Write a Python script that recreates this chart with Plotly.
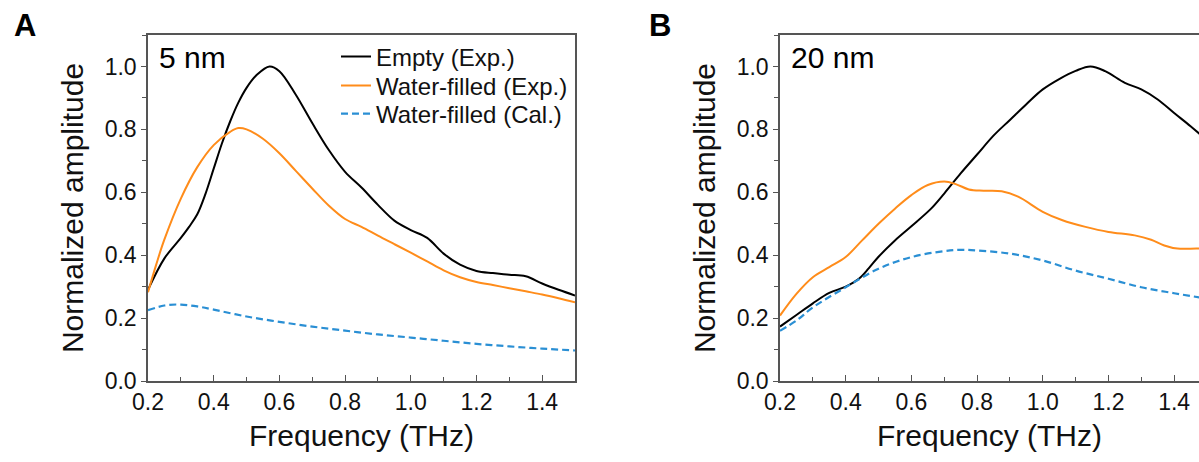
import plotly.graph_objects as go

# ---- Panel A: 5 nm channel ----
a_empty_f = [0.2, 0.25, 0.3, 0.325, 0.35, 0.375, 0.4, 0.425, 0.45, 0.475, 0.5, 0.53, 0.57, 0.6, 0.65, 0.7,
             0.75, 0.8, 0.85, 0.9, 0.95, 1.0, 1.05, 1.1, 1.15, 1.2, 1.25, 1.3, 1.35, 1.4, 1.45, 1.5]
a_empty_v = [0.29, 0.39, 0.455, 0.49, 0.53, 0.595, 0.675, 0.755, 0.825, 0.885, 0.932, 0.972, 1.0, 0.985, 0.91, 0.82,
             0.735, 0.665, 0.615, 0.56, 0.51, 0.48, 0.455, 0.405, 0.37, 0.35, 0.343, 0.338, 0.333, 0.31, 0.29, 0.272]

a_water_f = [0.2, 0.225, 0.25, 0.3, 0.35, 0.4, 0.45, 0.475, 0.5, 0.55, 0.6, 0.65, 0.7, 0.75, 0.8,
             0.85, 0.9, 0.95, 1.0, 1.05, 1.1, 1.15, 1.2, 1.25, 1.3, 1.35, 1.4, 1.45, 1.5]
a_water_v = [0.282, 0.37, 0.45, 0.58, 0.68, 0.75, 0.792, 0.804, 0.80, 0.77, 0.724, 0.668, 0.612, 0.558, 0.515,
             0.49, 0.462, 0.435, 0.408, 0.38, 0.352, 0.33, 0.315, 0.305, 0.295, 0.285, 0.275, 0.263, 0.25]

a_calc_f = [0.2, 0.25, 0.3, 0.35, 0.4, 0.5, 0.6, 0.7, 0.8, 0.9, 1.0, 1.1, 1.2, 1.3, 1.4, 1.5]
a_calc_v = [0.225, 0.24, 0.243, 0.237, 0.227, 0.205, 0.188, 0.173, 0.16, 0.148, 0.138, 0.128, 0.118, 0.11, 0.103, 0.097]

# ---- Panel B: 20 nm channel ----
b_empty_f = [0.2, 0.25, 0.3, 0.35, 0.4, 0.44, 0.47, 0.5, 0.55, 0.6, 0.66, 0.7, 0.75, 0.8, 0.85, 0.9, 0.95,
             1.0, 1.05, 1.1, 1.145, 1.19, 1.25, 1.3, 1.35, 1.4, 1.45, 1.5]
b_empty_v = [0.173, 0.21, 0.247, 0.28, 0.30, 0.325, 0.358, 0.395, 0.447, 0.492, 0.548, 0.596, 0.66, 0.72, 0.78, 0.83, 0.88,
             0.927, 0.96, 0.986, 1.0, 0.985, 0.948, 0.927, 0.895, 0.852, 0.81, 0.765]

b_water_f = [0.2, 0.25, 0.3, 0.35, 0.4, 0.45, 0.5, 0.55, 0.6, 0.65, 0.7, 0.735, 0.775, 0.82, 0.875, 0.925,
             1.0, 1.06, 1.13, 1.2, 1.28, 1.33, 1.37, 1.41, 1.47, 1.5]
b_water_v = [0.208, 0.277, 0.33, 0.362, 0.394, 0.447, 0.50, 0.548, 0.591, 0.623, 0.634, 0.626, 0.609, 0.605, 0.603, 0.586,
             0.538, 0.511, 0.49, 0.474, 0.463, 0.449, 0.431, 0.421, 0.421, 0.42]

b_calc_f = [0.2, 0.25, 0.3, 0.4, 0.5, 0.6, 0.7, 0.75, 0.8, 0.9, 1.0, 1.1, 1.2, 1.3, 1.4, 1.5]
b_calc_v = [0.16, 0.192, 0.234, 0.298, 0.357, 0.394, 0.413, 0.417, 0.415, 0.405, 0.383, 0.351, 0.325, 0.298, 0.279, 0.262]

series_names = ["Empty (Exp.)", "Water-filled (Exp.)", "Water-filled (Cal.)"]
panel_labels = ["A", "B"]
panel_titles = ["5 nm", "20 nm"]

BLACK = "#000000"
ORANGE = "#ff8c1a"
BLUE = "#2a8fd4"
AXIS = "#555555"
TEXT = "#111111"
FONT = "Arial, Liberation Sans, sans-serif"

W, H = 1199, 462

fig = go.Figure()

legend_ids = ["legend", "legend2", "legend3"]
panels = [
    (a_empty_f, a_empty_v, a_water_f, a_water_v, a_calc_f, a_calc_v, "x", "y", True),
    (b_empty_f, b_empty_v, b_water_f, b_water_v, b_calc_f, b_calc_v, "x2", "y2", False),
]
styles = [
    dict(color=BLACK, width=2),
    dict(color=ORANGE, width=2),
    dict(color=BLUE, width=2.2, dash="7px,4px"),
]
for ef, ev, wf, wv, cf, cv, xa, ya, show in panels:
    for i, (fx, vy) in enumerate([(ef, ev), (wf, wv), (cf, cv)]):
        fig.add_trace(go.Scatter(
            x=fx, y=vy, mode="lines", name=series_names[i], xaxis=xa, yaxis=ya,
            showlegend=show, legend=legend_ids[i],
            line=dict(shape="spline", smoothing=1.0, **styles[i]),
        ))

# plot-area geometry in pixels
A_LEFT, A_RIGHT = 148, 575
B_LEFT = 780
TOP, BOTTOM = 35, 381
PX_PER_THZ = (A_RIGHT - A_LEFT) / 1.3
b_xmax = 0.2 + (W - B_LEFT) / PX_PER_THZ

ydom = [(H - BOTTOM) / H, (H - TOP) / H]


def xaxis_style(rng, dom, anchor):
    return dict(
        domain=dom, range=rng, anchor=anchor, showgrid=False, zeroline=False,
        showline=True, linecolor=AXIS, linewidth=1.5, mirror=True,
        ticks="inside", ticklen=6, tickwidth=1.2, tickcolor=AXIS,
        tick0=0.2, dtick=0.2, tickformat=".1f",
        minor=dict(ticks="inside", ticklen=4, tickwidth=1.2, tickcolor=AXIS, dtick=0.1, tick0=0.2),
        tickfont=dict(family=FONT, size=23, color=TEXT),
        title=dict(text="Frequency (THz)", font=dict(family=FONT, size=30, color=TEXT), standoff=11),
        automargin=False, fixedrange=True,
    )


def yaxis_style(anchor, mirror):
    return dict(
        domain=ydom, range=[0, 1.1], anchor=anchor, showgrid=False, zeroline=False,
        showline=True, linecolor=AXIS, linewidth=1.5, mirror=mirror,
        ticks="outside", ticklen=5, tickwidth=1.2, tickcolor=AXIS,
        tick0=0, dtick=0.2, tickformat=".1f",
        minor=dict(ticks="outside", ticklen=4, tickwidth=1.2, tickcolor=AXIS, dtick=0.1, tick0=0),
        tickfont=dict(family=FONT, size=23, color=TEXT),
        title=dict(text="Normalized amplitude", font=dict(family=FONT, size=30, color=TEXT), standoff=12),
        automargin=False, fixedrange=True,
    )


def legend_style(row_y):
    return dict(
        x=336 / W, y=1 - row_y / H, xanchor="left", yanchor="middle",
        font=dict(family=FONT, size=24, color=TEXT),
        bgcolor="rgba(0,0,0,0)", borderwidth=0, itemwidth=30,
    )


fig.update_layout(
    width=W, height=H,
    margin=dict(l=0, r=0, t=0, b=0),
    paper_bgcolor="white", plot_bgcolor="white",
    xaxis=xaxis_style([0.2, 1.5], [A_LEFT / W, A_RIGHT / W], "y"),
    yaxis=yaxis_style("x", True),
    xaxis2=xaxis_style([0.2, b_xmax], [B_LEFT / W, 1.0], "y2"),
    yaxis2=yaxis_style("x2", False),
    legend=legend_style(57),
    legend2=legend_style(86),
    legend3=legend_style(114),
    showlegend=True,
)

# panel letters and channel labels
for lbl, xpx in zip(panel_labels, [12, 647]):
    fig.add_annotation(text="<b>%s</b>" % lbl, x=xpx / W, y=1 - 26 / H, xref="paper", yref="paper",
                       xanchor="left", yanchor="middle", showarrow=False,
                       font=dict(family=FONT, size=31, color="#000000"))
for t, xpx in zip(panel_titles, [157, 789]):
    fig.add_annotation(text=t, x=xpx / W, y=1 - 58 / H, xref="paper", yref="paper",
                       xanchor="left", yanchor="middle", showarrow=False,
                       font=dict(family=FONT, size=30, color="#000000"))

fig.write_html("out.html")
